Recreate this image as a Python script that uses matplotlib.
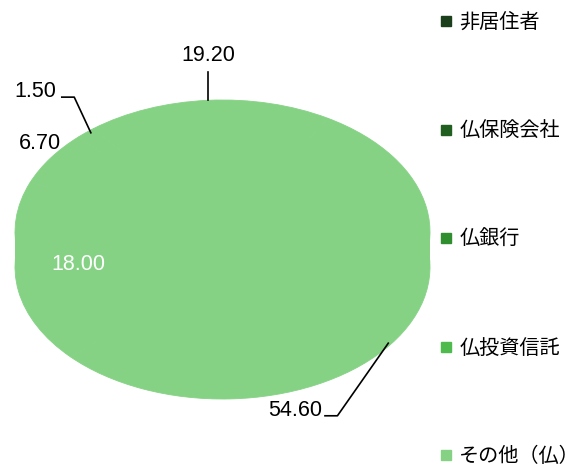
import numpy as np
import matplotlib
matplotlib.use("Agg")
import matplotlib.pyplot as plt
from matplotlib.patches import Rectangle
from matplotlib.lines import Line2D

categories = ["非居住者", "仏保険会社", "仏銀行", "仏投資信託", "その他（仏）"]
values = [19.20, 1.50, 6.70, 18.00, 54.60]
legend_colors = ["#1b3e1b", "#215f21", "#2f8f2f", "#4fbb4f", "#85d285"]
pie_color = "#85d285"

W, H = 575, 470
fig = plt.figure(figsize=(W / 100, H / 100), dpi=100)

# geometry in pixels
cx_l, cx_r = 15, 430
top_px, ry_px, depth_px = 100, 132, 35
rx_px = (cx_r - cx_l) / 2
d = depth_px / ry_px

ax = fig.add_axes([cx_l / W, (H - (top_px + 2 * ry_px + depth_px)) / H,
                   (cx_r - cx_l) / W, (2 * ry_px + depth_px) / H])
ax.axis("off")

total = sum(values)
startangle = 59.44
wp = dict(linewidth=0.6, edgecolor=pie_color)

# bottom face, side, top face (all same colour as rendered)
ax.pie(values, startangle=startangle, center=(0, -d), radius=1,
       colors=[pie_color] * len(values), wedgeprops=wp)
ax.add_patch(Rectangle((-1, -d), 2, d, facecolor=pie_color, edgecolor="none", zorder=1))
ax.pie(values, startangle=startangle, center=(0, 0), radius=1,
       colors=[pie_color] * len(values), wedgeprops=wp)
ax.set_aspect("auto")
ax.set_xlim(-1, 1)
ax.set_ylim(-1 - d, 1)

# mid angles
cum = np.cumsum([0] + values[:-1])
mids = [np.deg2rad(startangle + 360 * (c + v / 2) / total) for c, v in zip(cum, values)]
fmt = ["%.2f" % v for v in values]
numfont = dict(family="Liberation Sans", fontsize=15.5)

def edge(i):
    a = mids[i]
    x, y = np.cos(a), np.sin(a)
    if y < 0:
        y -= d
    return x, y

# 非居住者: vertical leader
ex, ey = edge(0)
ax.plot([ex, ex], [ey, ey + 0.215], color="black", lw=1.2, clip_on=False)
ax.text(ex, ey + 0.26, fmt[0], ha="center", va="bottom", clip_on=False, **numfont)

# 仏保険会社
ex, ey = edge(1)
p1 = (ex - 0.055, ey + 0.27)
ax.plot([ex + 0.025, p1[0], p1[0] - 0.06], [ey + 0.0, p1[1], p1[1]], color="black", lw=1.2, clip_on=False)
ax.text(p1[0] - 0.085, p1[1] + 0.04, fmt[1], ha="right", va="center", clip_on=False, **numfont)

# 仏銀行 (no leader)
ex, ey = edge(2)
ax.text(ex + 0.05, ey + 0.11, fmt[2], ha="right", va="center", clip_on=False, **numfont)

# 仏投資信託 (inside, white)
a = mids[3]
ax.text(0.68 * np.cos(a) - 0.025, 0.68 * np.sin(a) - 0.12, fmt[3], ha="center", va="center",
        color="white", clip_on=False, **numfont)

# その他（仏）
ex, ey = edge(4)
p1 = (ex - 0.225, ey - 0.5)
ax.plot([ex + 0.02, p1[0], p1[0] - 0.06], [ey + 0.05, p1[1], p1[1]], color="black", lw=1.2, clip_on=False)
ax.text(p1[0] - 0.075, p1[1] + 0.04, fmt[4], ha="right", va="center", clip_on=False, **numfont)

# legend
handles = [Line2D([], [], marker="s", linestyle="none", markersize=7,
                  markerfacecolor=c, markeredgecolor=c) for c in legend_colors]
fig.legend(handles, categories, loc="upper left", bbox_to_anchor=(441 / W, 1 - 12 / H),
           frameon=False, handlelength=0.45, handletextpad=0.45, labelspacing=4.35,
           prop=dict(family=["Noto Sans CJK JP", "DejaVu Sans"], size=14.5),
           borderaxespad=0, borderpad=0)

fig.savefig("out.png", dpi=100)
